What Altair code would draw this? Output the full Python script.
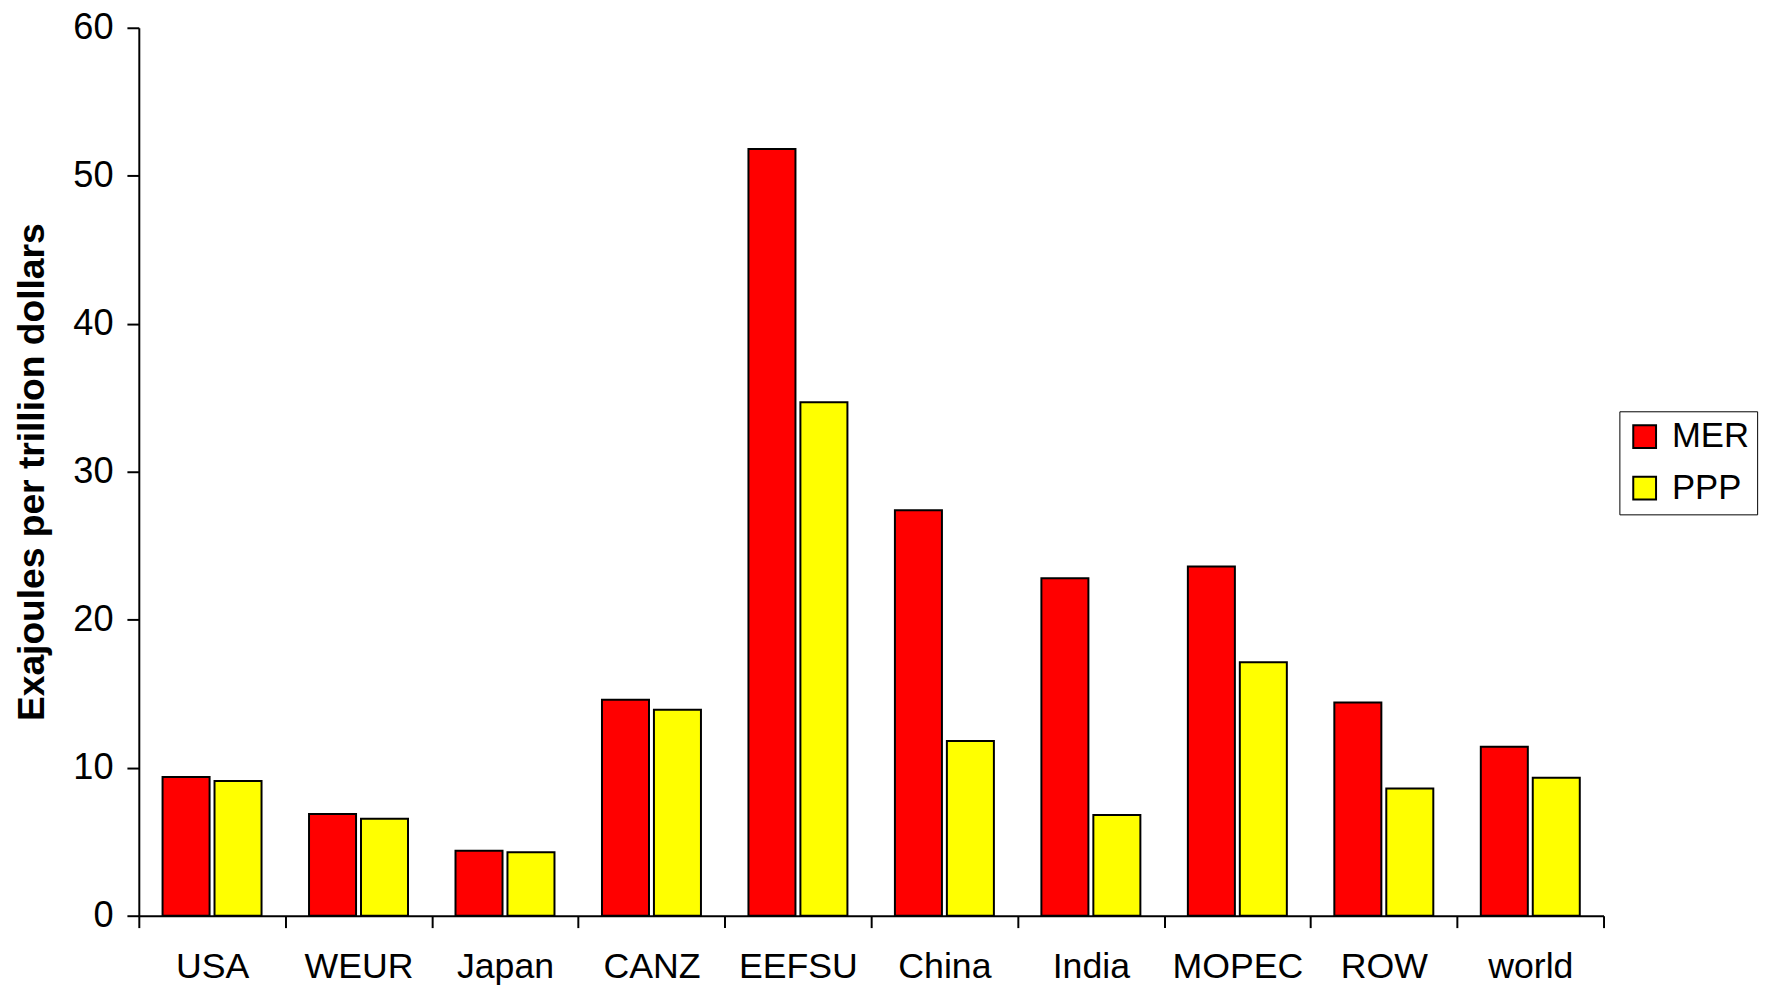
import altair as alt
import pandas as pd

regions = ["USA", "WEUR", "Japan", "CANZ", "EEFSU", "China", "India", "MOPEC", "ROW", "world"]
mer = [9.38, 6.87, 4.39, 14.60, 51.81, 27.4, 22.81, 23.60, 14.40, 11.41]
ppp = [9.11, 6.56, 4.29, 13.91, 34.69, 11.8, 6.8, 17.12, 8.6, 9.33]
series = ["MER", "PPP"]
colors = ["#ff0000", "#ffff00"]
y_ticks = [0, 10, 20, 30, 40, 50, 60]

rows = []
for r, m, p in zip(regions, mer, ppp):
    rows.append({"region": r, "series": "MER", "value": m})
    rows.append({"region": r, "series": "PPP", "value": p})
df = pd.DataFrame(rows)

FONT = "Liberation Sans"

chart = alt.Chart(df).mark_bar(stroke="black", strokeWidth=2).encode(
    x=alt.X(
        "region:N",
        sort=regions,
        scale=alt.Scale(paddingInner=0, paddingOuter=0),
        axis=alt.Axis(
            title=None, labelAngle=0, tickBand="extent", labelFontSize=36,
            labelFont=FONT, labelColor="black", labelPadding=22,
            tickSize=12, tickWidth=2, tickColor="black",
            domainColor="black", domainWidth=2,
        ),
    ),
    xOffset=alt.XOffset(
        "series:N", sort=series,
        scale=alt.Scale(paddingInner=0.095, paddingOuter=0.457),
    ),
    y=alt.Y(
        "value:Q",
        scale=alt.Scale(domain=[0, 60], nice=False),
        axis=alt.Axis(
            values=y_ticks, grid=False, title="Exajoules per trillion dollars",
            titleFont=FONT, titleFontSize=37.5, titleFontWeight="bold",
            titleColor="black", titlePadding=22,
            labelFont=FONT, labelFontSize=36.5, labelColor="black", labelPadding=14,
            tickSize=12, tickWidth=2, tickColor="black",
            domainColor="black", domainWidth=2,
        ),
    ),
    color=alt.Color(
        "series:N",
        scale=alt.Scale(domain=series, range=colors),
        legend=alt.Legend(
            title=None, orient="none", legendX=1494, legendY=387,
            symbolType="square", symbolSize=529,
            symbolStrokeColor="black", symbolStrokeWidth=2,
            labelFont=FONT, labelFontSize=35, labelColor="black",
            labelOffset=10, rowPadding=16, padding=8,
            strokeColor="black",
        ),
    ),
).properties(
    width=1478,
    height=896,
    autosize=alt.AutoSizeParams(type="none"),
    padding={"left": 132, "top": 15.5, "right": 170, "bottom": 70},
).configure(background="white", font=FONT).configure_view(stroke=None, strokeWidth=0)

chart.save("out.html", embed_options={"renderer": "svg", "actions": False})
